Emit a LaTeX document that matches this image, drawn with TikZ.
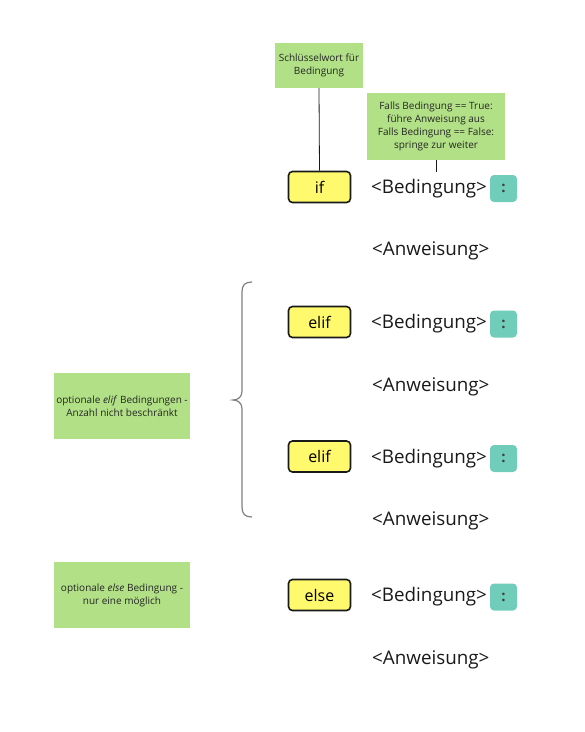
\documentclass[tikz,border=0pt]{standalone}
\usepackage{fontspec}
\setmainfont{Open Sans}
\usetikzlibrary{positioning}
\definecolor{notizgruen}{HTML}{B1E086}
\definecolor{gelb}{HTML}{FFF96E}
\definecolor{tuerkis}{HTML}{6FCDB9}
\tikzset{
	notiz/.style={fill=notizgruen,align=center,font=\fontsize{10}{13}\selectfont,text=black!85,inner sep=0pt},
	schluessel/.style={draw=black!90,line width=1.6pt,fill=gelb,rounded corners=4pt,minimum width=62pt,minimum height=31pt,font=\fontsize{16}{18}\selectfont,inner sep=0pt},
	platzhalter/.style={font=\fontsize{18.8}{21}\selectfont,text=black!90,inner sep=0pt,anchor=west},
	doppelpunkt/.style={fill=tuerkis,rounded corners=4pt,minimum width=27pt,minimum height=27pt,inner sep=0pt,font=\fontsize{15}{17}\selectfont\bfseries,text=black!75}
}
\begin{document}
\begin{tikzpicture}[x=1pt,y=-1pt]
	\useasboundingbox (0,0) rectangle (585,732);
	
	\node[schluessel] (kwIf) at (319.5,187) {if};
	\node[schluessel] (kwElif1) at (319.5,322) {elif};
	\node[schluessel] (kwElif2) at (319.5,456.5) {elif};
	\node[schluessel] (kwElse) at (319.5,595) {else};
	
	\node[platzhalter] (bed1) at (371,189) {<Bedingung>};
	\node[platzhalter] (bed2) at (371,324) {<Bedingung>};
	\node[platzhalter] (bed3) at (371,459) {<Bedingung>};
	\node[platzhalter] (bed4) at (371,597) {<Bedingung>};
	\node[doppelpunkt] (dp1) at (503.5,188.5) {:};
	\node[doppelpunkt] (dp2) at (503.5,324) {:};
	\node[doppelpunkt] (dp3) at (503.5,458.5) {:};
	\node[doppelpunkt] (dp4) at (503.5,597) {:};
	\node[platzhalter] (anw1) at (372,251) {<Anweisung>};
	\node[platzhalter] (anw2) at (372,387) {<Anweisung>};
	\node[platzhalter] (anw3) at (372,521) {<Anweisung>};
	\node[platzhalter] (anw4) at (372,660) {<Anweisung>};
	
	\node[notiz,minimum width=88pt,minimum height=45pt] (notizIf) at (319,65.5) {Schlüsselwort für\\Bedingung};
	\node[notiz,minimum width=138pt,minimum height=67pt] (notizFalls) at (436,126.5) {Falls Bedingung == True:\\führe Anweisung aus\\Falls Bedingung == False:\\springe zur weiter};
	\node[notiz,minimum width=136pt,minimum height=66pt] (notizElif) at (122,406) {optionale \emph{elif} Bedingungen -\\Anzahl nicht beschränkt};
	\node[notiz,minimum width=136pt,minimum height=66pt] (notizElse) at (122,595) {optionale \emph{else} Bedingung -\\nur eine möglich};
	
	\draw[black!90,line width=0.8pt] (notizIf.south) -- (kwIf.north);
	\draw[black!90,line width=0.8pt] (notizFalls.south) --++(0,12) coordinate (fallsEnde);
	% Klammer fuer die elif-Zweige
	\draw[black!50,line width=1.2pt] (252,282) .. controls (245,282) and (242,285) .. (242,292) -- (242,391)
		.. controls (242,397) and (238,400) .. (233,400) .. controls (238,400) and (242,403) .. (242,409)
		-- (242,507) .. controls (242,514) and (245,517) .. (252,517);
\end{tikzpicture}
\end{document}
